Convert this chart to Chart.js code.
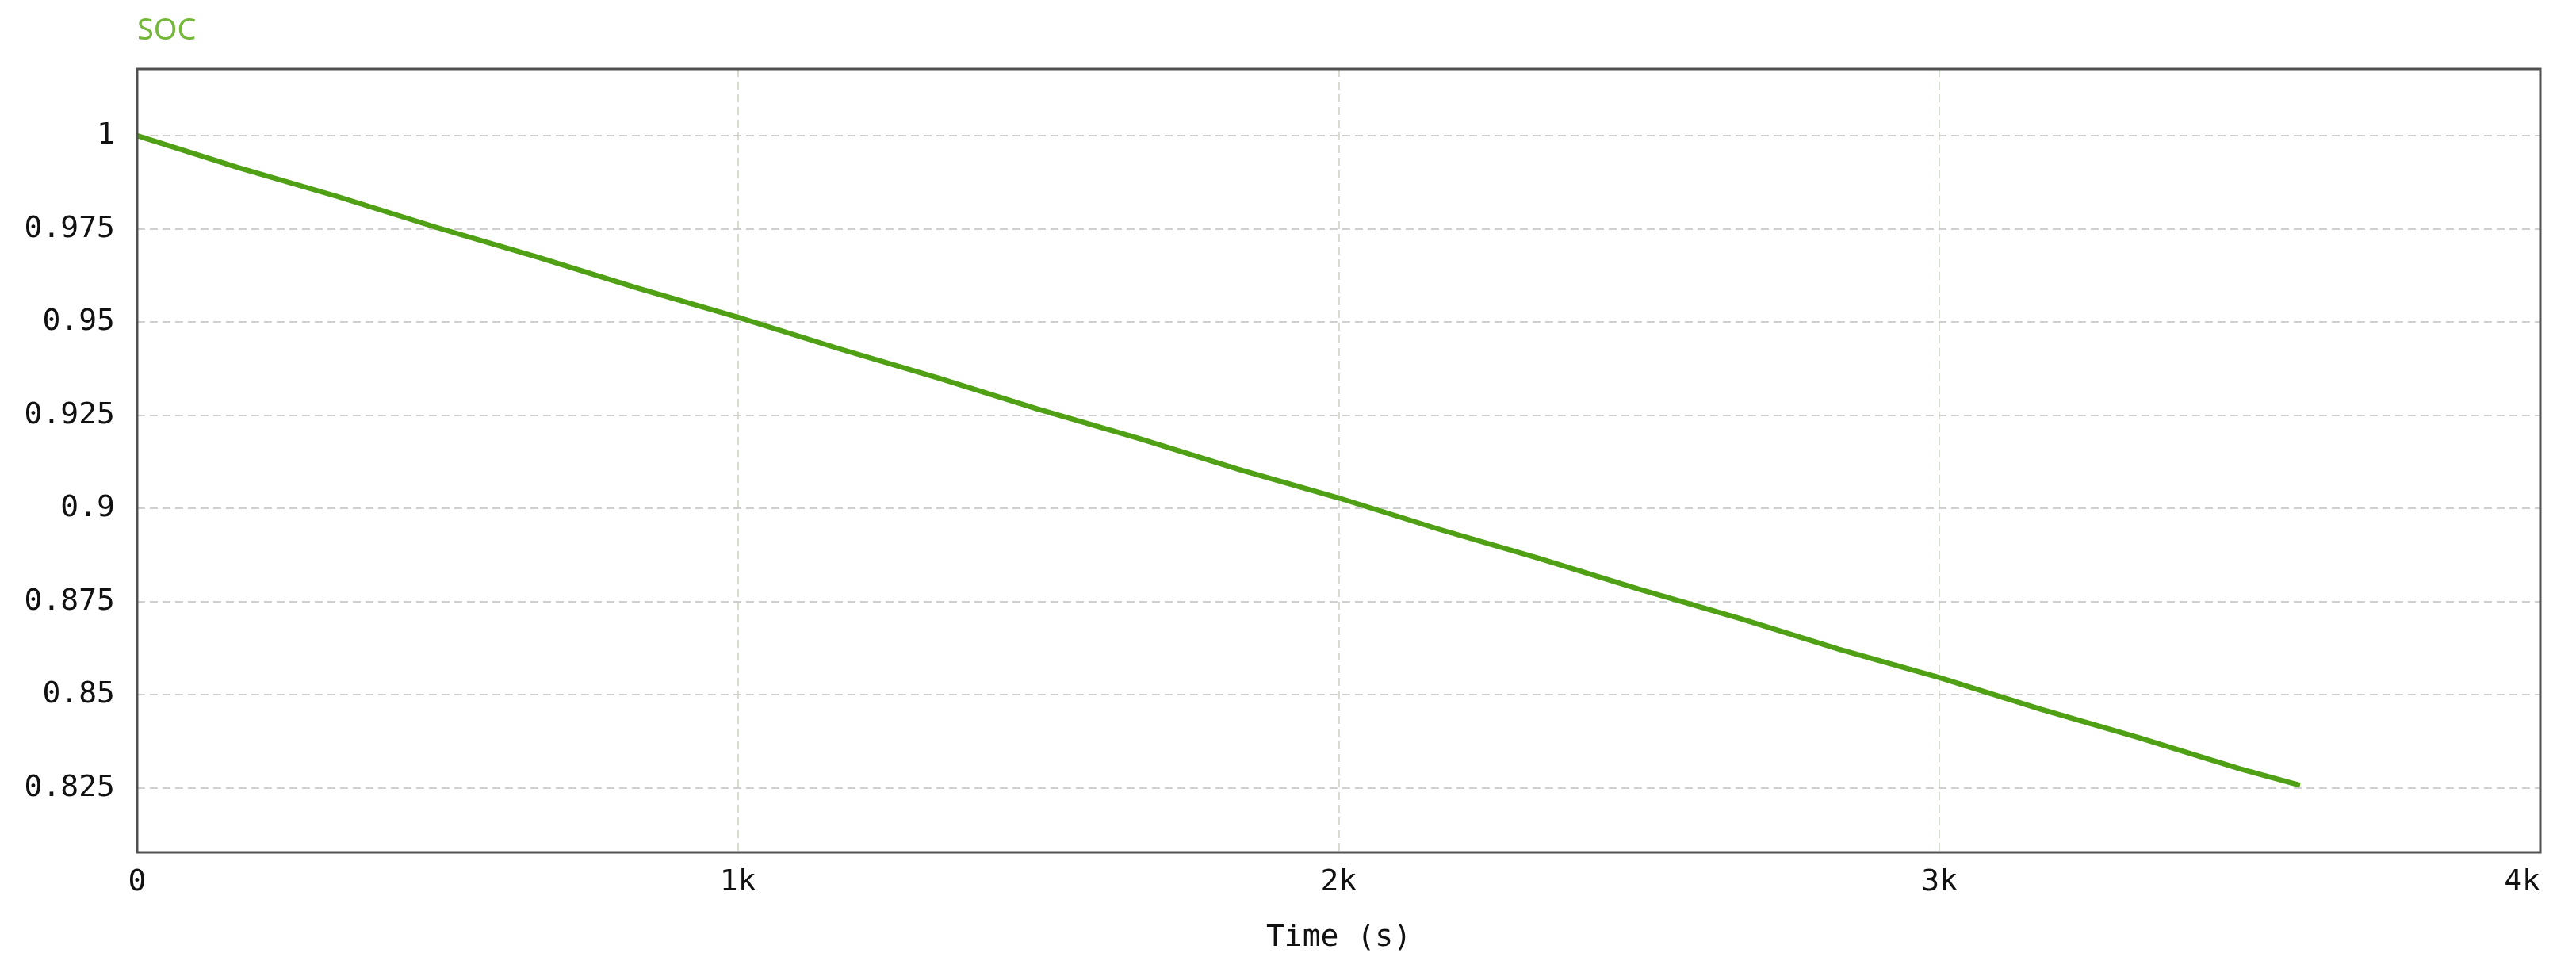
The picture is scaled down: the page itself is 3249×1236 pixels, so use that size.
<!DOCTYPE html>
<html>
<head>
<meta charset="utf-8">
<script src="https://cdn.jsdelivr.net/npm/chart.js@4/dist/chart.umd.min.js"></script>
<style>
  html, body { margin: 0; padding: 0; background: #fff; }
  #wrap { width: 3249px; height: 1236px; }
</style>
</head>
<body>
<div id="wrap"><canvas id="socChart" width="3249" height="1236"></canvas></div>
<script>
// time (s) and state of charge
var timeSec = [0, 167, 333, 500, 667, 833, 1000, 1167, 1333, 1500, 1667, 1833,
    2000, 2167, 2333, 2500, 2667, 2833, 3000, 3167, 3333, 3500, 3600];
var socValues = [1.0000, 0.9915, 0.9837, 0.9753, 0.9674, 0.9591, 0.9513, 0.9429,
    0.9350, 0.9266, 0.9188, 0.9105, 0.9028, 0.8944, 0.8866, 0.8783, 0.8705,
    0.8622, 0.8546, 0.8462, 0.8384, 0.8301, 0.8257];

var xTicks = [0, 1000, 2000, 3000, 4000];
var xTickLabels = ['0', '1k', '2k', '3k', '4k'];
var yTicks = [0.825, 0.85, 0.875, 0.9, 0.925, 0.95, 0.975, 1];
var yTickLabels = ['0.825', '0.85', '0.875', '0.9', '0.925', '0.95', '0.975', '1'];

var monoFont = { family: "'DejaVu Sans Mono', monospace", size: 38 };

// frame around the plot and the trace name above it
var framePlugin = {
    id: 'frame',
    afterDraw: function (chart) {
        var ctx = chart.ctx;
        var a = chart.chartArea;
        ctx.save();
        ctx.strokeStyle = '#505050';
        ctx.lineWidth = 3;
        ctx.strokeRect(a.left, a.top, a.right - a.left, a.bottom - a.top);
        var ds = chart.data.datasets[0];
        ctx.fillStyle = '#74b83a';
        ctx.font = "38px 'Noto Sans', sans-serif";
        ctx.textAlign = 'left';
        ctx.textBaseline = 'middle';
        ctx.fillText(ds.label, a.left, 39);
        ctx.restore();
    }
};

var points = timeSec.map(function (t, i) {
    return { x: t, y: socValues[i] };
});

new Chart(document.getElementById('socChart').getContext('2d'), {
    type: 'line',
    data: {
        datasets: [{
            label: 'SOC',
            data: points,
            borderColor: '#4fa014',
            borderWidth: 6.5,
            pointRadius: 0,
            tension: 0,
            fill: false
        }]
    },
    options: {
        responsive: false,
        animation: false,
        layout: { padding: { left: 0, right: 45, top: 87, bottom: 0 } },
        plugins: {
            legend: { display: false },
            tooltip: { enabled: false }
        },
        scales: {
            x: {
                type: 'linear',
                min: 0,
                max: 4000,
                afterFit: function (scale) {
                    scale.height = 161;
                    scale.paddingLeft = 0;
                    scale.paddingRight = 0;
                },
                afterBuildTicks: function (scale) {
                    scale.ticks = xTicks.map(function (v) { return { value: v }; });
                },
                ticks: {
                    padding: 15,
                    color: '#111',
                    font: monoFont,
                    maxRotation: 0,
                    callback: function (v) {
                        var i = xTicks.indexOf(v);
                        var s = i >= 0 ? xTickLabels[i] : '';
                        // last label sits inside the frame like the original
                        return i === xTicks.length - 1 ? s + '  ' : s;
                    }
                },
                grid: { color: '#d6ddcf', lineWidth: 2, drawTicks: false },
                border: { display: false, dash: [10, 6] },
                title: {
                    display: true,
                    text: 'Time (s)',
                    color: '#111',
                    font: monoFont,
                    padding: { top: 0, bottom: 30 }
                }
            },
            y: {
                type: 'linear',
                min: 0.8077,
                max: 1.0179,
                afterFit: function (scale) {
                    scale.width = 173;
                    scale.paddingTop = 0;
                    scale.paddingBottom = 0;
                },
                afterBuildTicks: function (scale) {
                    scale.ticks = yTicks.map(function (v) { return { value: v }; });
                },
                ticks: {
                    padding: 28,
                    color: '#111',
                    font: monoFont,
                    callback: function (v) {
                        var i = yTicks.indexOf(v);
                        return i >= 0 ? yTickLabels[i] : '';
                    }
                },
                grid: { color: '#cfcfcf', lineWidth: 2, drawTicks: false },
                border: { display: false, dash: [10, 6] }
            }
        }
    },
    plugins: [framePlugin]
});
</script>
</body>
</html>
